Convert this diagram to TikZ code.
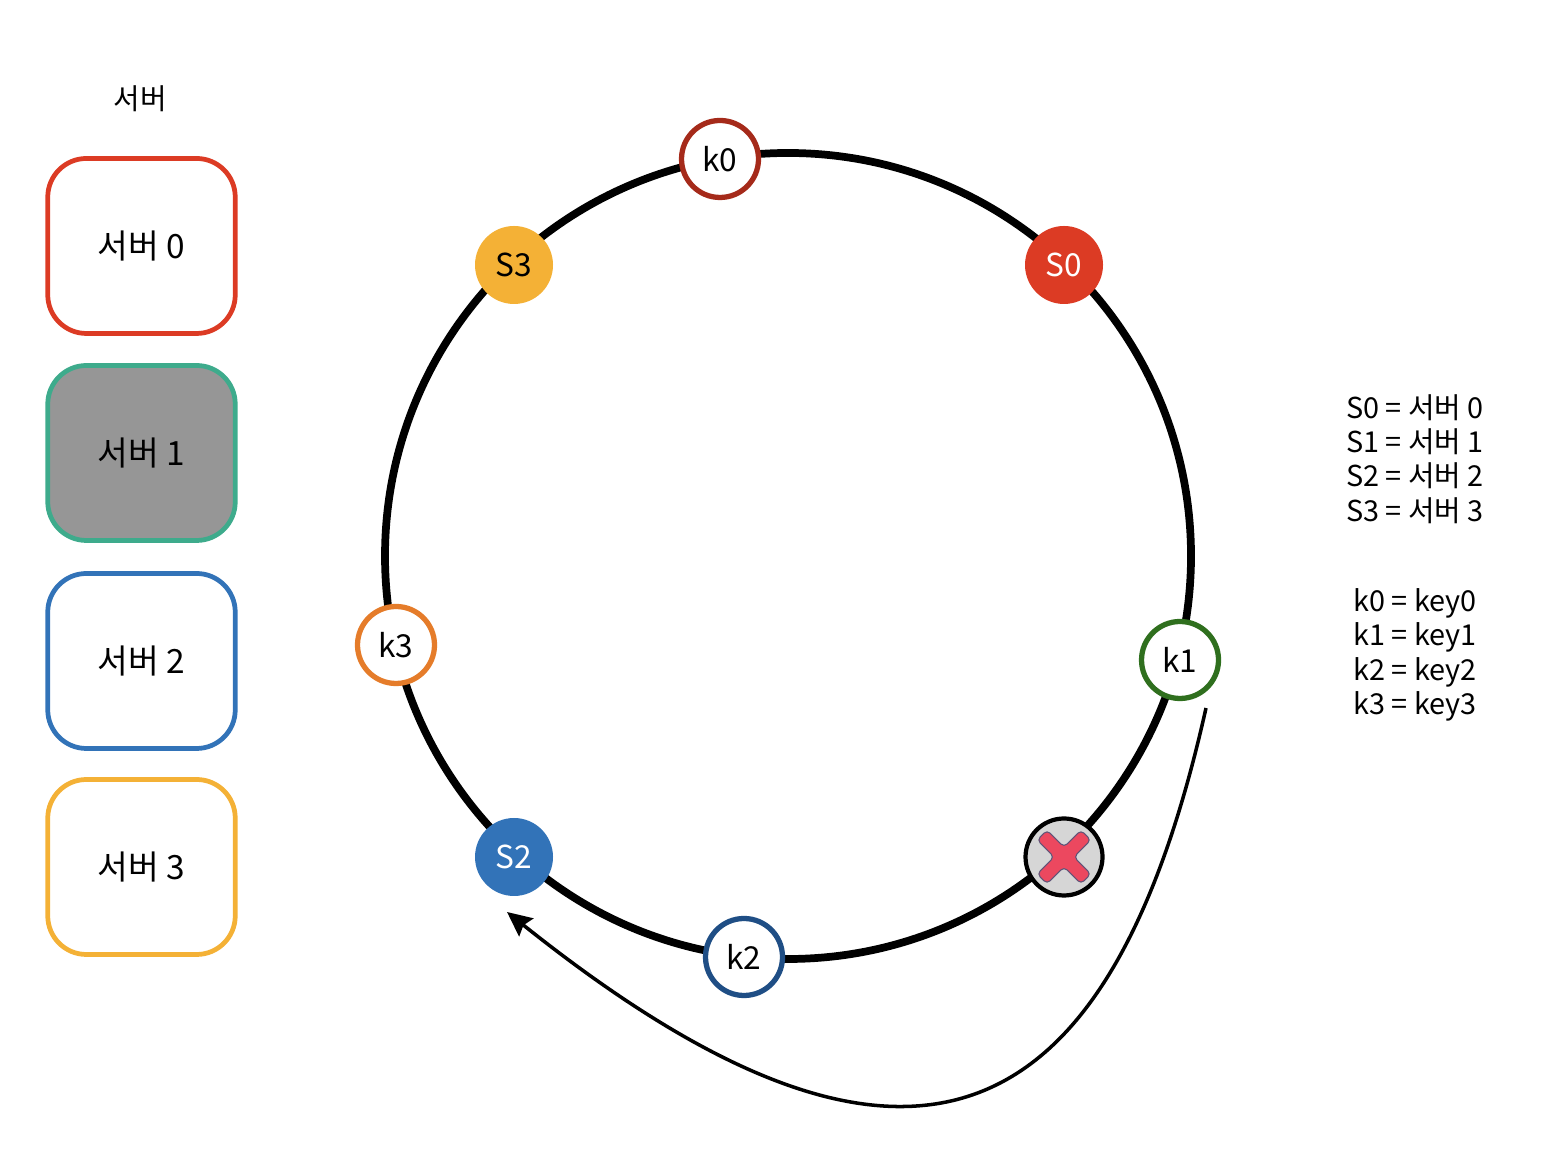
\documentclass[tikz,border=0pt]{standalone}
\usepackage{fontspec}
\setmainfont{Noto Sans CJK KR}
\usetikzlibrary{arrows.meta}

\definecolor{srvred}{HTML}{DC3B24}
\definecolor{srvgreen}{HTML}{3EAB8C}
\definecolor{srvblue}{HTML}{3273B8}
\definecolor{srvyellow}{HTML}{F4B136}
\definecolor{keyred}{HTML}{A52A1A}
\definecolor{keygreen}{HTML}{2F6F1E}
\definecolor{keyblue}{HTML}{1F4E85}
\definecolor{keyorange}{HTML}{E57C2A}
\definecolor{crossfill}{HTML}{EC485F}
\definecolor{crossline}{HTML}{5F5478}

\begin{document}
\begin{tikzpicture}[
    myarrow/.style={-{Stealth[length=7pt, width=6.5pt, inset=1pt]}, line width=1pt},
    label/.style={font=\fontsize{9}{9.76}\selectfont, align=center},
    legend/.style={font=\fontsize{8.2}{9.76}\selectfont, align=center},
    srvbox/.style={draw, line width=1.35pt, rounded corners=11pt, fill=white,
        minimum width=1.875cm, minimum height=1.75cm, font=\fontsize{9.5}{11}\selectfont},
    srvdot/.style={circle, inner sep=0pt, minimum size=0.78cm, label},
    keydot/.style={circle, draw, fill=white, line width=1.5pt, inner sep=0pt,
        minimum size=0.77cm, label},
]

\useasboundingbox (0, 0) rectangle (15.6, 11.7);

% ===================== SERVER LIST =====================
\node[legend] (title) at (1.4, 10.71) {서버};

\foreach \n/\y/\col/\bg in {0/9.24/srvred/white, 1/7.17/srvgreen/gray!82, 2/5.09/srvblue/white, 3/3.03/srvyellow/white} {
    \node[srvbox, draw=\col, fill=\bg] (box\n) at (1.415, \y) {서버 \n};
}

% ===================== RING =====================
\node[draw, circle, line width=2.2pt, inner sep=0pt, minimum size=8.06cm] (ring) at (7.88, 6.14) {};

% Servers on the ring
\node[srvdot, fill=srvred, text=white] (s0) at (10.64, 9.05) {S0};
\node[srvdot, fill=srvyellow] (s3) at (5.14, 9.05) {S3};
\node[srvdot, fill=srvblue, text=white] (s2) at (5.14, 3.13) {S2};

% Keys on the ring
\foreach \k/\x/\y/\col in {0/7.20/10.11/keyred, 1/11.80/5.10/keygreen, 2/7.44/2.13/keyblue, 3/3.96/5.25/keyorange} {
    \node[keydot, draw=\col] (k\k) at (\x, \y) {k\k};
}

% Removed server
\node[circle, draw, fill=gray!32, line width=1.2pt, inner sep=0pt, minimum size=0.77cm] (s1) at (10.64, 3.13) {};
\draw[crossline, fill=crossfill, line width=0.3pt, rounded corners=1.2pt, shift={(s1.center)}, rotate=45]
    (-0.07, 0.31) -- (0.07, 0.31) -- (0.07, 0.07) -- (0.31, 0.07) -- (0.31, -0.07) -- (0.07, -0.07)
    -- (0.07, -0.31) -- (-0.07, -0.31) -- (-0.07, -0.07) -- (-0.31, -0.07) -- (-0.31, 0.07)
    -- (-0.07, 0.07) -- cycle;

% ===================== MOVED KEY =====================
\coordinate (movestart) at (12.06, 4.62);
\coordinate (moveend) at (5.07, 2.58);
\draw[myarrow] (movestart) .. controls (11.12, 0.42) and (9.20, -0.72) .. (moveend);

% ===================== LEGEND =====================
\node[legend] (srvlegend) at (14.15, 7.11) {S0 = 서버 0\\S1 = 서버 1\\S2 = 서버 2\\S3 = 서버 3};
\node[legend] (keylegend) at (14.15, 5.15) {k0 = key0\\k1 = key1\\k2 = key2\\k3 = key3};

\end{tikzpicture}
\end{document}
